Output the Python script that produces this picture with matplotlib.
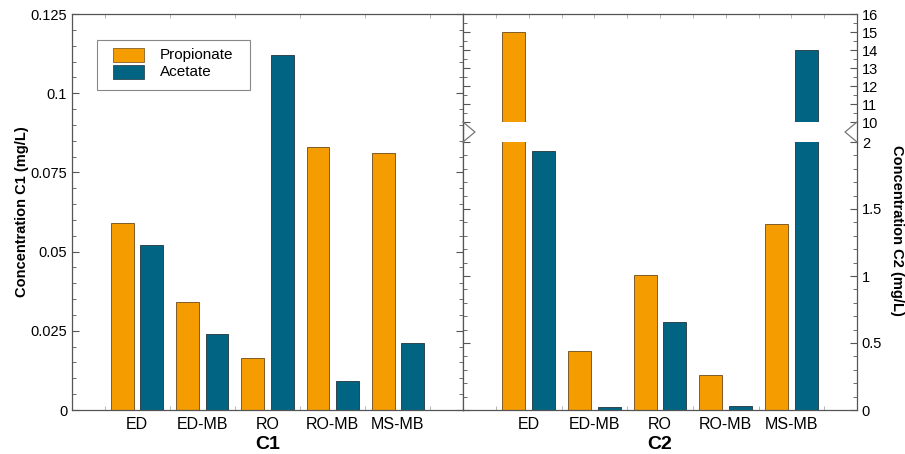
import numpy as np
import matplotlib
matplotlib.use("Agg")
import matplotlib.pyplot as plt
from matplotlib.lines import Line2D
from matplotlib.patches import Rectangle
from matplotlib.ticker import MultipleLocator

plt.rcParams['font.family'] = ['Liberation Sans', 'DejaVu Sans']

# data
cats = ["ED", "ED-MB", "RO", "RO-MB", "MS-MB"]
series = ["Propionate", "Acetate"]
c1_prop = [0.059, 0.034, 0.0165, 0.083, 0.081]
c1_acet = [0.052, 0.024, 0.112, 0.009, 0.021]
c2_prop = [15.0, 0.44, 1.01, 0.26, 1.39]
c2_acet = [1.93, 0.02, 0.66, 0.03, 14.0]

orange = "#F59D00"
teal = "#006482"
spine = "#555555"

W, H = 905, 454
fig = plt.figure(figsize=(W / 100, H / 100), dpi=100)

def rect(x0, y0, x1, y1):
    # pixel box (top-left origin) -> figure fraction
    return [x0 / W, 1 - y1 / H, (x1 - x0) / W, (y1 - y0) / H]

ax1 = fig.add_axes(rect(72, 14, 463, 410))
ax2 = fig.add_axes(rect(463, 142, 857, 410))   # lower part of C2
ax3 = fig.add_axes(rect(463, 14, 857, 122))    # upper part of C2

x = np.arange(len(cats))
bw = 0.35
off = 0.225

def draw_bars(ax, p, a):
    ax.bar(x - off, p, bw, color=orange, edgecolor="#6b4a1a", linewidth=0.6)
    ax.bar(x + off, a, bw, color=teal, edgecolor="#20343c", linewidth=0.6)
    ax.set_xlim(-1, 5)
    for s in ax.spines.values():
        s.set_color(spine)
        s.set_linewidth(0.9)
    ax.xaxis.set_minor_locator(MultipleLocator(0.5))
    ax.tick_params(which="both", direction="in", colors=spine, labelcolor="black",
                   labelsize=10.5)
    ax.tick_params(axis="x", which="minor", length=3, top=True, bottom=True, color="#aaaaaa")
    ax.tick_params(axis="x", which="major", length=0, labelsize=11.5, pad=5)

draw_bars(ax1, c1_prop, c1_acet)
draw_bars(ax2, c2_prop, c2_acet)
draw_bars(ax3, c2_prop, c2_acet)

# left panel
ax1.set_ylim(0, 0.125)
ax1.set_yticks([0, 0.025, 0.05, 0.075, 0.1, 0.125])
ax1.set_yticklabels(["0", "0.025", "0.05", "0.075", "0.1", "0.125"])
ax1.yaxis.set_minor_locator(MultipleLocator(0.005))
ax1.tick_params(axis="y", which="major", length=5, left=True, right=True)
ax1.tick_params(axis="y", which="minor", length=3, left=True, right=True)
ax1.set_xticks(x)
ax1.set_xticklabels(cats)
ax1.set_ylabel("Concentration C1 (mg/L)", fontweight="bold", fontsize=10.5, labelpad=1)
ax1.set_xlabel("C1", fontweight="bold", fontsize=14, labelpad=3)

# right panel, lower part
ax2.set_ylim(0, 2)
ax2.set_yticks([0, 0.5, 1, 1.5, 2])
ax2.set_yticklabels(["0", "0.5", "1", "1.5", "2"])
ax2.yaxis.set_minor_locator(MultipleLocator(0.1))
ax2.yaxis.tick_right()
ax2.tick_params(axis="y", which="major", length=5, left=True, right=True,
                labelleft=False, labelright=True)
ax2.tick_params(axis="y", which="minor", length=3, left=True, right=True)
ax2.spines["top"].set_visible(False)
ax2.tick_params(axis="x", which="minor", top=False)
ax2.set_xticks(x)
ax2.set_xticklabels(cats)
ax2.set_xlabel("C2", fontweight="bold", fontsize=14, labelpad=3)

# right panel, upper part
ax3.set_ylim(10, 16)
ax3.set_yticks(np.arange(10, 17, 1))
ax3.yaxis.set_minor_locator(MultipleLocator(0.5))
ax3.yaxis.tick_right()
ax3.tick_params(axis="y", which="major", length=5, left=True, right=True,
                labelleft=False, labelright=True)
ax3.tick_params(axis="y", which="minor", length=3, left=True, right=True)
ax3.spines["bottom"].set_visible(False)
ax3.tick_params(axis="x", which="minor", bottom=False)
ax3.set_xticks([])

fig.text(897 / W, 1 - 230 / H, "Concentration C2 (mg/L)", rotation=-90,
         fontweight="bold", fontsize=10.5, ha="center", va="center")

# axis break: spine segments and chevrons across the gap
yt, yb = 1 - 122 / H, 1 - 142 / H
ym = (yt + yb) / 2
for xp, d in [(463, 12), (857, -12)]:
    xf = xp / W
    fig.add_artist(Line2D([xf, xf], [yb, yt], color=spine, lw=0.9))
    fig.add_artist(Line2D([xf, (xp + d) / W, xf], [yt, ym, yb], color="#777777", lw=0.9))

# legend box, drawn in pixel positions of the figure
def fx(px):
    return px / W

def fy(py):
    return 1 - py / H

fig.add_artist(Rectangle((fx(97), fy(90)), fx(250) - fx(97), fy(40) - fy(90),
                         transform=fig.transFigure, facecolor="white",
                         edgecolor="#888888", lw=0.8, zorder=5))
for i, (name, col) in enumerate(zip(series, [orange, teal])):
    top = 48 + i * 17
    fig.add_artist(Rectangle((fx(113), fy(top + 14)), fx(144) - fx(113), fy(top) - fy(top + 14),
                             transform=fig.transFigure, facecolor=col,
                             edgecolor="#6b4a1a" if i == 0 else "#20343c", lw=0.5, zorder=6))
    fig.text(fx(160), fy(top + 7.5), name, fontsize=11, ha="left", va="center", zorder=7)

fig.savefig("out.png", dpi=100)
